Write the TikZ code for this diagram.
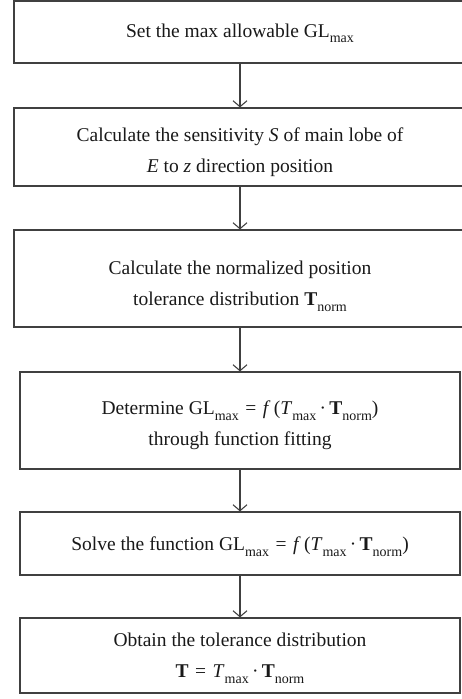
\documentclass[tikz,border=0pt]{standalone}
\usepackage{fontspec}
\setmainfont{Liberation Serif}
\usetikzlibrary{arrows.meta}
\newcommand\lsub[1]{\raisebox{-0.28em}{\fontsize{14}{14}\selectfont #1}}
\newcommand\bT{\textbf{T}}
\newcommand\eqs{\,\,=\,\,}
\newcommand\cdt{\,·\,}
\begin{document}
\begin{tikzpicture}[x=1pt,y=-1pt,
  box/.style={draw=black!75,line width=1.1pt,inner sep=0pt},
  txt/.style={align=center,font=\fontsize{19.5}{31}\selectfont,text=black!90,inner sep=0pt},
  flow/.style={draw=black!75,line width=1.1pt,-{Straight Barb[length=6pt,width=14pt]}}]
\useasboundingbox (0,0) rectangle (462,699);
\node[box,minimum width=452pt,minimum height=62pt] (b1) at (240,32) {};
\node[box,minimum width=452pt,minimum height=78pt] (b2) at (240,147) {};
\node[box,minimum width=452pt,minimum height=97pt] (b3) at (240,278.5) {};
\node[box,minimum width=440pt,minimum height=97pt] (b4) at (240,420.5) {};
\node[box,minimum width=440pt,minimum height=63pt] (b5) at (240,543.5) {};
\node[box,minimum width=440pt,minimum height=75pt] (b6) at (240,655.5) {};
\node[txt] (t1) at ([yshift=-1.5pt]b1.center) {Set the max allowable GL\lsub{max}};
\node[txt] (t2) at ([yshift=-5pt]b2.center) {Calculate the sensitivity \textit{S} of main lobe of\\ \textit{E} to \textit{z} direction position};
\node[txt] (t3) at ([yshift=-8pt]b3.center) {Calculate the normalized position\\ tolerance distribution \bT\lsub{norm}};
\node[txt] (t4) at ([yshift=-5pt]b4.center) {Determine GL\lsub{max}\eqs\textit{f}\,(\textit{T}\lsub{max}\cdt\bT\lsub{norm})\\ through function fitting};
\node[txt] (t5) at ([yshift=-3pt]b5.center) {Solve the function GL\lsub{max}\eqs\textit{f}\,(\textit{T}\lsub{max}\cdt\bT\lsub{norm})};
\node[txt] (t6) at ([yshift=-3pt]b6.center) {Obtain the tolerance distribution\\ \bT\eqs\textit{T}\lsub{max}\cdt\bT\lsub{norm}};
\draw[flow] (b1) -- (b2);
\draw[flow] (b2) -- (b3);
\draw[flow] (b3) -- (b4);
\draw[flow] (b4) -- (b5);
\draw[flow] (b5) -- (b6);
\end{tikzpicture}
\end{document}
